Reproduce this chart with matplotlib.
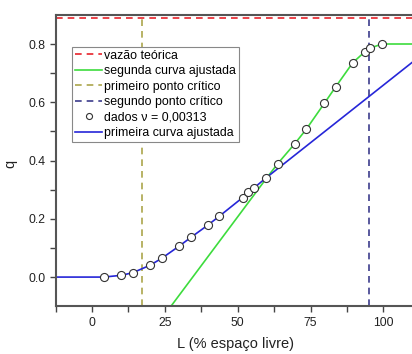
import matplotlib
matplotlib.use("Agg")
import matplotlib.pyplot as plt

plt.rcParams['font.family'] = ['Liberation Sans', 'DejaVu Sans']

# dados medidos (L em % de espaço livre, q)
dados_L = [4.0, 10.0, 14.0, 20.0, 24.0, 30.0, 33.9, 39.7, 43.7, 51.7, 53.7, 55.7,
           59.8, 63.7, 69.6, 73.5, 79.7, 83.7, 89.5, 93.6, 95.5, 99.5]
dados_q = [0.000, 0.006, 0.015, 0.041, 0.065, 0.107, 0.136, 0.178, 0.209, 0.273, 0.291, 0.307,
           0.341, 0.389, 0.458, 0.507, 0.596, 0.654, 0.736, 0.773, 0.786, 0.800]

# primeira curva ajustada
curva1_L = [-12.5, 0.0, 4.0, 10.0, 14.0, 20.0, 24.0, 30.0, 33.9, 39.7, 43.7, 51.7, 53.7,
            55.7, 59.8, 120.0]
curva1_q = [0.000, 0.000, 0.000, 0.006, 0.015, 0.041, 0.065, 0.107, 0.136, 0.178, 0.209,
            0.273, 0.291, 0.307, 0.341, 0.817]

# segunda curva ajustada
curva2_L = [27.1, 60.0, 63.7, 69.6, 73.5, 79.7, 83.7, 89.5, 93.6, 95.5, 99.5, 120.0]
curva2_q = [-0.100, 0.341, 0.389, 0.458, 0.507, 0.596, 0.654, 0.736, 0.773, 0.786, 0.800, 0.800]

vazao_teorica = 0.89
ponto_critico_1 = 17.3
ponto_critico_2 = 95.2

fig = plt.figure(figsize=(4.12, 3.54), dpi=100)
ax = fig.add_axes([0.135, 0.135, 0.937, 0.823])

ax.axhline(vazao_teorica, color='#e8232b', ls=(0, (4, 3)), lw=1.2, label='vazão teórica')
ax.plot(curva2_L, curva2_q, color='#3ddc3d', lw=1.2, label='segunda curva ajustada')
ax.axvline(ponto_critico_1, color='#aca64c', ls=(0, (4, 3)), lw=1.2, label='primeiro ponto crítico')
ax.axvline(ponto_critico_2, color='#3c3c8c', ls=(0, (4, 3)), lw=1.2, label='segundo ponto crítico')
ax.plot(curva1_L, curva1_q, color='#2626d8', lw=1.2, label='primeira curva ajustada')
ax.plot(dados_L, dados_q, ls='none', marker='o', ms=5.8, mfc='white', mec='#333333',
        mew=0.8, label='dados ν = 0,00313', zorder=5)

ax.set_xlim(-12.5, 120)
ax.set_ylim(-0.1, 0.9)
ax.set_xticks([0, 25, 50, 75, 100])
ax.set_xticks([-12.5, 12.5, 37.5, 62.5, 87.5, 112.5], minor=True)
ax.set_yticks([0.0, 0.2, 0.4, 0.6, 0.8])
ax.set_yticks([0.1, 0.3, 0.5, 0.7], minor=True)
ax.set_yticklabels(['0.0', '0.2', '0.4', '0.6', '0.8'])
ax.tick_params(which='both', direction='out', length=4, width=1.0, colors='#444444',
               labelsize=8.8, labelcolor='#222222')
ax.tick_params(top=False, right=False)
for s in ax.spines.values():
    s.set_color('#555555')
    s.set_linewidth(1.5)

ax.set_xlabel('L (% espaço livre)', fontsize=10.5, color='#222222')
ax.set_ylabel('q', fontsize=10.5, color='#222222')
ax.xaxis.set_label_coords(0.467, -0.105)
ax.yaxis.set_label_coords(-0.1, 0.49)

h, lab = ax.get_legend_handles_labels()
order = ['vazão teórica', 'segunda curva ajustada', 'primeiro ponto crítico',
         'segundo ponto crítico', 'dados ν = 0,00313', 'primeira curva ajustada']
hd = dict(zip(lab, h))
leg = ax.legend([hd[k] for k in order], order, loc='upper left',
                bbox_to_anchor=(0.042, 0.891), borderaxespad=0, fontsize=8.9,
                frameon=True, fancybox=False, edgecolor='#888888', framealpha=1,
                handlelength=2.2, handletextpad=0.15, labelspacing=0.28,
                borderpad=0.25, markerscale=0.75)
leg.get_frame().set_linewidth(0.8)

fig.savefig('out.png', dpi=100)
